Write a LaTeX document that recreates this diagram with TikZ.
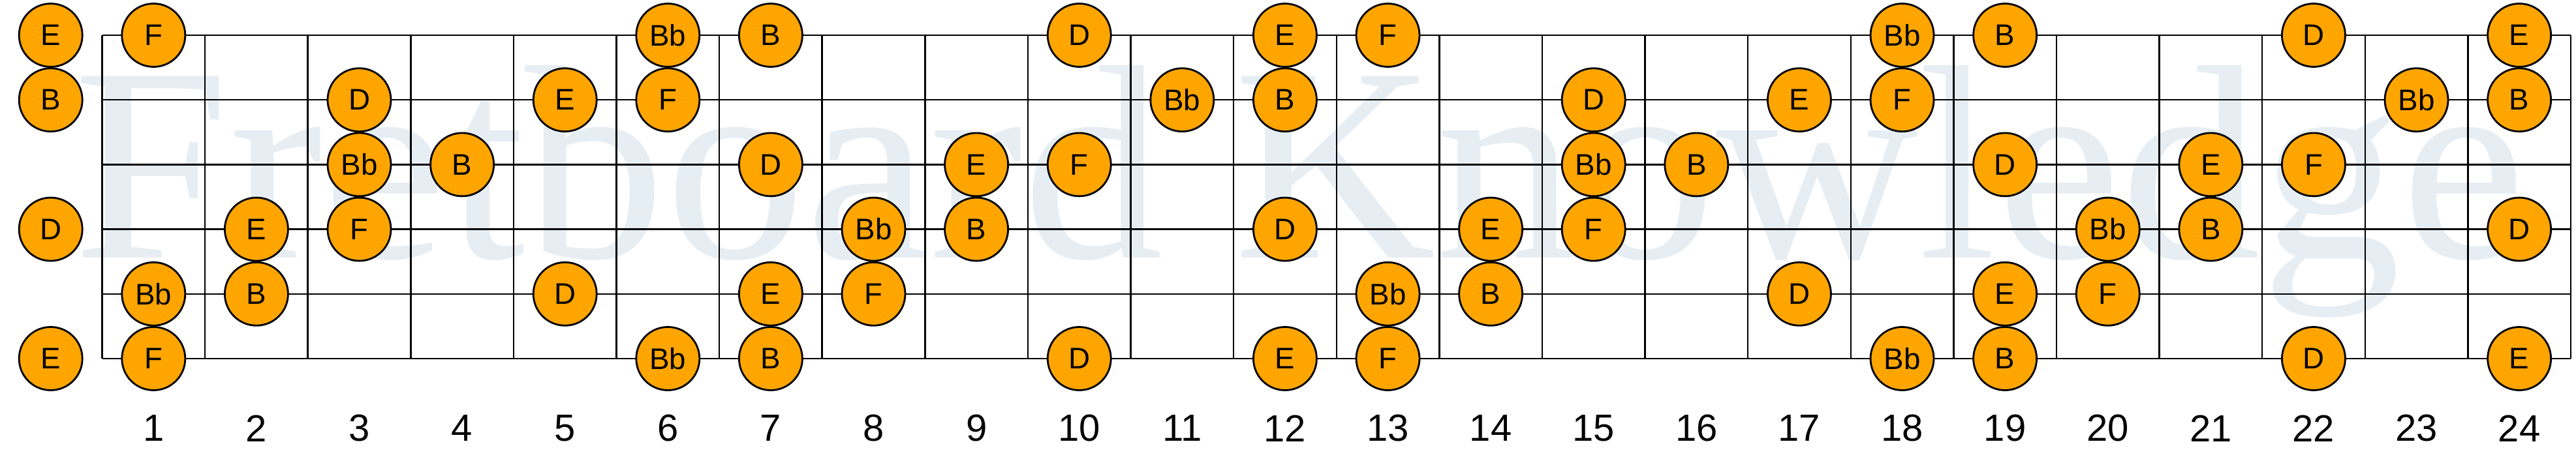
\documentclass[tikz,border=0pt]{standalone}
\usepackage{fontspec}
\setmainfont{Liberation Sans}
\newfontfamily\markfont{Liberation Serif}
\usepackage{tikz}
\usetikzlibrary{positioning}
\definecolor{noteorange}{RGB}{255,165,0}
\definecolor{markblue}{RGB}{230,238,244}

\begin{document}
\begin{tikzpicture}[x=1cm, y=1cm]
    % Define styles
    \tikzset{
        note/.style={circle, draw=black, line width=0.8pt, fill=noteorange, minimum size=0.97cm, inner sep=0pt, text centered, font=\fontsize{13}{13}\selectfont},
        fretno/.style={inner sep=0pt, font=\fontsize{16.5}{16.5}\selectfont},
        wire/.style={draw=black, line width=0.7pt}
    }
    \useasboundingbox (0,0) rectangle (39.47,7.03);

    % Watermark
    \node[anchor=base west, inner sep=0pt, text=markblue, xscale=1.01, font=\markfont\fontsize{121}{121}\selectfont] (mark) at (1.12,3.08) {Fretboard Knowledge};

    % Strings
    \foreach \s/\y in {1/6.49, 2/5.498, 3/4.506, 4/3.514, 5/2.522, 6/1.53} {
        \coordinate (nut\s) at (1.565,\y);
        \coordinate (end\s) at (39.39,\y);
        \draw[wire] (nut\s) -- (end\s);
    }

    % Frets
    \foreach \f in {0,...,24} {
        \coordinate (top\f) at ({1.565+1.576*\f},6.49);
        \coordinate (bot\f) at ({1.565+1.576*\f},1.53);
        \draw[wire] (top\f) -- (bot\f);
    }

    % Notes, string by string
    \foreach \f/\n in {0/E,1/F,6/Bb,7/B,10/D,12/E,13/F,18/Bb,19/B,22/D,24/E}
        \node[note] (hiE-\f) at ({1.565+1.576*(\f-0.5)},6.49) {\n};
    \foreach \f/\n in {0/B,3/D,5/E,6/F,11/Bb,12/B,15/D,17/E,18/F,23/Bb,24/B}
        \node[note] (B-\f) at ({1.565+1.576*(\f-0.5)},5.498) {\n};
    \foreach \f/\n in {3/Bb,4/B,7/D,9/E,10/F,15/Bb,16/B,19/D,21/E,22/F}
        \node[note] (G-\f) at ({1.565+1.576*(\f-0.5)},4.506) {\n};
    \foreach \f/\n in {0/D,2/E,3/F,8/Bb,9/B,12/D,14/E,15/F,20/Bb,21/B,24/D}
        \node[note] (D-\f) at ({1.565+1.576*(\f-0.5)},3.514) {\n};
    \foreach \f/\n in {1/Bb,2/B,5/D,7/E,8/F,13/Bb,14/B,17/D,19/E,20/F}
        \node[note] (A-\f) at ({1.565+1.576*(\f-0.5)},2.522) {\n};
    \foreach \f/\n in {0/E,1/F,6/Bb,7/B,10/D,12/E,13/F,18/Bb,19/B,22/D,24/E}
        \node[note] (loE-\f) at ({1.565+1.576*(\f-0.5)},1.53) {\n};

    % Fret numbers
    \foreach \f in {1,...,24}
        \node[fretno] (num\f) at ({1.565+1.576*(\f-0.5)},0.46) {\f};
\end{tikzpicture}
\end{document}
